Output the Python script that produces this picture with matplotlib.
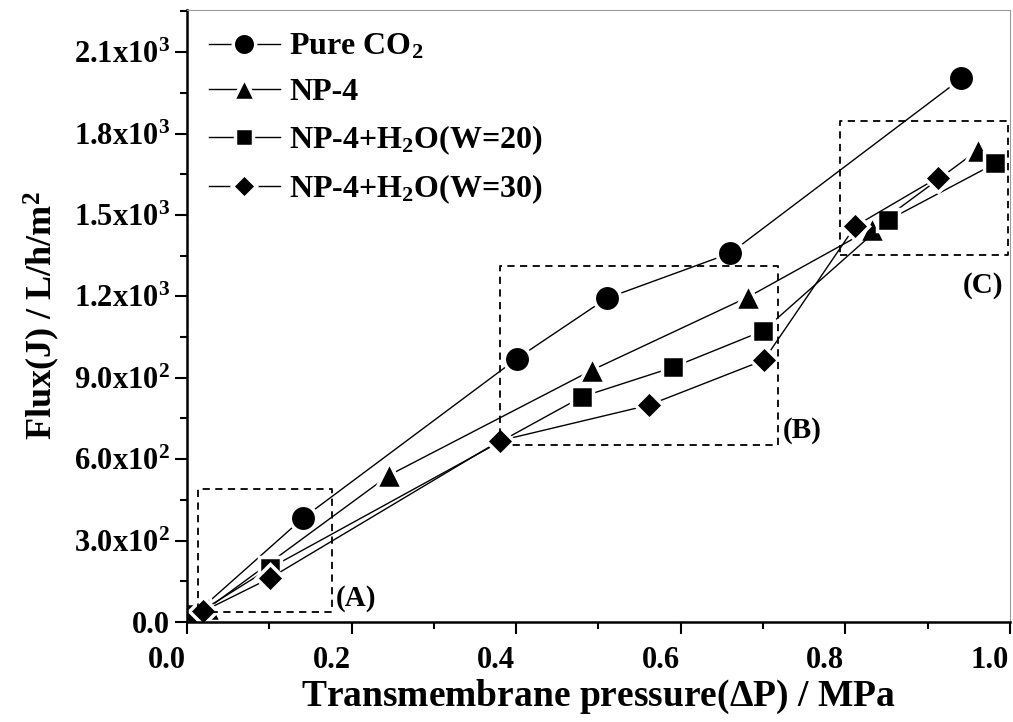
import matplotlib.pyplot as plt
import matplotlib.transforms as mtransforms
from matplotlib.ticker import MultipleLocator, FuncFormatter

plt.rcParams['font.family'] = ['Liberation Serif', 'DejaVu Serif']
plt.rcParams['font.weight'] = 'bold'
plt.rcParams['axes.labelweight'] = 'bold'
plt.rcParams['mathtext.fontset'] = 'custom'
plt.rcParams['mathtext.rm'] = 'Liberation Serif:bold'
plt.rcParams['mathtext.bf'] = 'Liberation Serif:bold'
plt.rcParams['mathtext.it'] = 'Liberation Serif:bold'

# pressure (MPa) and flux (L/h/m2)
co2_x = [0.010, 0.141, 0.401, 0.510, 0.660, 0.941]
co2_y = [30, 383, 971, 1193, 1359, 2003]

np4_x = [0.025, 0.245, 0.492, 0.682, 0.832, 0.961]
np4_y = [50, 540, 928, 1198, 1450, 1739]

w20_x = [0.012, 0.101, 0.480, 0.590, 0.700, 0.852, 0.982]
w20_y = [30, 199, 830, 938, 1073, 1481, 1690]

w30_x = [0.020, 0.101, 0.380, 0.561, 0.701, 0.812, 0.912]
w30_y = [40, 162, 668, 799, 965, 1459, 1637]

labels = ['Pure CO$_\\mathbf{2}$', 'NP-4',
          'NP-4+H$_\\mathbf{2}$O(W=20)', 'NP-4+H$_\\mathbf{2}$O(W=30)']

fig = plt.figure(figsize=(10.13, 7.22), dpi=100)
ax = fig.add_axes([0.1846, 0.1385, 0.8124, 0.8475])

style = dict(color='black', lw=1.0, mec='white', mew=2.5)
ax.plot(co2_x, co2_y, marker='o', ms=19, label=labels[0], **style)
ax.plot(np4_x, np4_y, marker='^', ms=19, label=labels[1], **style)
ax.plot(w20_x, w20_y, marker='s', ms=16, label=labels[2], **style)
ax.plot(w30_x, w30_y, marker='D', ms=14, label=labels[3], **style)

# dashed boxes
boxes = [(0.013, 38, 0.176, 489), (0.380, 652, 0.718, 1312), (0.793, 1352, 0.998, 1846)]
for x0, y0, x1, y1 in boxes:
    ax.plot([x0, x1, x1, x0, x0], [y0, y0, y1, y1, y0], color='black',
            lw=1.3, ls=(0, (4, 3)))
ax.text(0.181, 85, '(A)', fontsize=21, ha='left', va='center')
ax.text(0.724, 707, '(B)', fontsize=21, ha='left', va='center')
ax.text(0.967, 1241, '(C)', fontsize=21, ha='center', va='center')

ax.set_xlim(0, 1.0)
ax.set_ylim(0, 2255)
ax.xaxis.set_major_locator(MultipleLocator(0.2))
ax.xaxis.set_minor_locator(MultipleLocator(0.1))
ax.yaxis.set_major_locator(MultipleLocator(300))
ax.yaxis.set_minor_locator(MultipleLocator(150))


def yfmt(v, pos):
    if v == 0:
        return '0.0'
    e = 3 if v >= 1000 else 2
    return '$\\mathbf{%.1fx10^{%d}}$' % (v / 10 ** e, e)


ax.xaxis.set_major_formatter(FuncFormatter(lambda v, p: '%.1f' % v))
ax.yaxis.set_major_formatter(FuncFormatter(yfmt))
ax.tick_params(which='major', direction='out', length=8.5, width=1.5, labelsize=22)
ax.tick_params(which='minor', direction='out', length=5, width=1.5)
ax.tick_params(axis='x', pad=9)
ax.tick_params(axis='y', pad=4)
shift = mtransforms.ScaledTranslation(-0.2, 0, fig.dpi_scale_trans)
for lab in ax.get_xticklabels():
    lab.set_transform(lab.get_transform() + shift)

ax.spines['left'].set_linewidth(1.8)
ax.spines['bottom'].set_linewidth(1.8)
ax.spines['top'].set_color('#999999')
ax.spines['right'].set_color('#999999')

ax.set_xlabel('Transmembrane pressure($\\mathbf{\\Delta}$P) / MPa', fontsize=27,
              labelpad=2)
ax.set_ylabel('Flux(J) / L/h/m$^\\mathbf{2}$', fontsize=26, labelpad=8)

ax.legend(loc='upper left', frameon=False, fontsize=23, handlelength=2.2,
          borderaxespad=0.1, labelspacing=0.5, handletextpad=0.3,
          markerscale=0.85, borderpad=0.6)

plt.savefig('out.png')
